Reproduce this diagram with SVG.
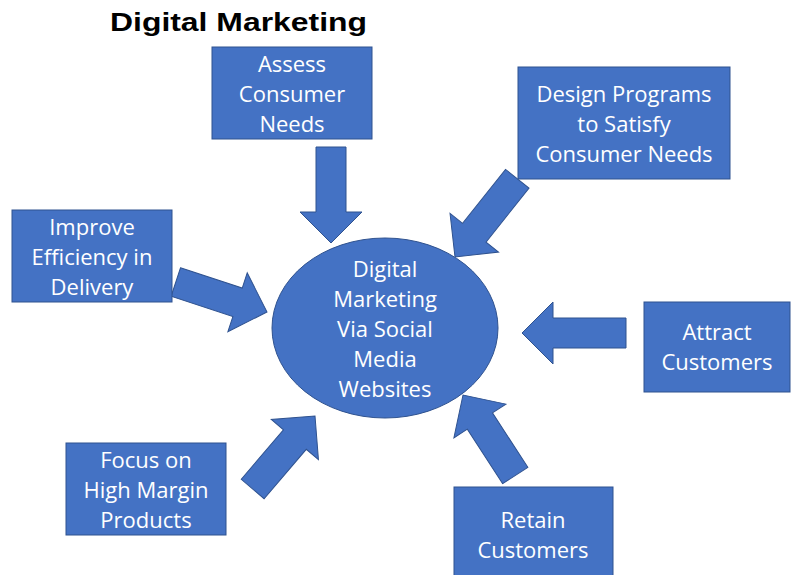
<svg xmlns="http://www.w3.org/2000/svg" width="792" height="575" viewBox="0 0 792 575">
  <style>
    .box { fill: #4472C4; stroke: #2F528F; stroke-width: 1; }
    .arrow { fill: #4472C4; stroke: #2F528F; stroke-width: 1; }
    .lbl { font-family: "Open Sans", "Liberation Sans", sans-serif; font-size: 22px; fill: #FFFFFF; text-anchor: middle; }
    .title { font-family: "Liberation Sans", Arial, sans-serif; font-size: 26px; font-weight: bold; fill: #000000; }
  </style>
  <rect width="792" height="575" fill="#FFFFFF"/>
  <text class="title" x="110" y="31" textLength="257" lengthAdjust="spacingAndGlyphs">Digital Marketing</text>

  <g id="connectors">
    <polygon class="arrow" transform="translate(331,243) rotate(90)" points="-96,-15 -31,-15 -31,-31 0,0 -31,31 -31,15 -96,15"/>
    <polygon class="arrow" transform="translate(455,257) rotate(128.5)" points="-100,-15 -31,-15 -31,-31 0,0 -31,31 -31,15 -100,15"/>
    <polygon class="arrow" transform="translate(267,312) rotate(18.2)" points="-96,-15 -31,-15 -31,-31 0,0 -31,31 -31,15 -96,15"/>
    <polygon class="arrow" transform="translate(522,333) rotate(180)" points="-104,-15 -31,-15 -31,-31 0,0 -31,31 -31,15 -104,15"/>
    <polygon class="arrow" transform="translate(315,416) rotate(-49.5)" points="-96,-15 -31,-15 -31,-31 0,0 -31,31 -31,15 -96,15"/>
    <polygon class="arrow" transform="translate(463,395) rotate(-123)" points="-96,-15 -31,-15 -31,-31 0,0 -31,31 -31,15 -96,15"/>
  </g>

  <g id="center">
    <ellipse class="box" cx="385" cy="328" rx="113" ry="90"/>
    <text class="lbl" x="385" y="277">Digital</text>
    <text class="lbl" x="385" y="307">Marketing</text>
    <text class="lbl" x="385" y="337">Via Social</text>
    <text class="lbl" x="385" y="367">Media</text>
    <text class="lbl" x="385" y="397">Websites</text>
  </g>

  <g id="assess">
    <rect class="box" x="212" y="47" width="160" height="92"/>
    <text class="lbl" x="292" y="72">Assess</text>
    <text class="lbl" x="292" y="102">Consumer</text>
    <text class="lbl" x="292" y="132">Needs</text>
  </g>

  <g id="design">
    <rect class="box" x="518" y="67" width="212" height="112"/>
    <text class="lbl" x="624" y="102">Design Programs</text>
    <text class="lbl" x="624" y="132">to Satisfy</text>
    <text class="lbl" x="624" y="162">Consumer Needs</text>
  </g>

  <g id="improve">
    <rect class="box" x="12" y="210" width="160" height="92"/>
    <text class="lbl" x="92" y="235">Improve</text>
    <text class="lbl" x="92" y="265">Efficiency in</text>
    <text class="lbl" x="92" y="295">Delivery</text>
  </g>

  <g id="attract">
    <rect class="box" x="644" y="302" width="146" height="90"/>
    <text class="lbl" x="717" y="340">Attract</text>
    <text class="lbl" x="717" y="370">Customers</text>
  </g>

  <g id="focus">
    <rect class="box" x="66" y="443" width="160" height="92"/>
    <text class="lbl" x="146" y="468">Focus on</text>
    <text class="lbl" x="146" y="498">High Margin</text>
    <text class="lbl" x="146" y="528">Products</text>
  </g>

  <g id="retain">
    <rect class="box" x="454" y="487" width="159" height="100"/>
    <text class="lbl" x="533" y="528">Retain</text>
    <text class="lbl" x="533" y="558">Customers</text>
  </g>
</svg>
